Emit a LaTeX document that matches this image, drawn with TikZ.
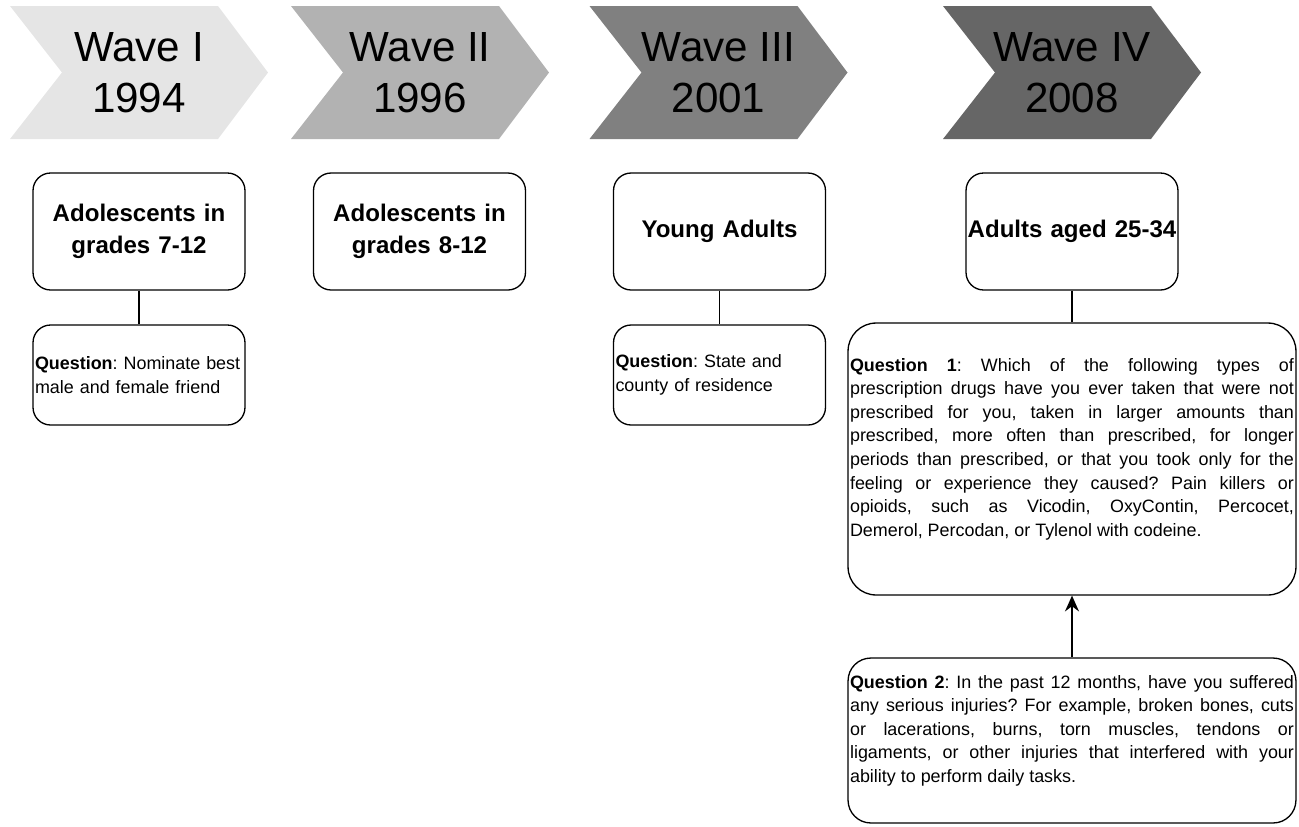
\documentclass[tikz,border=0pt]{standalone}
\usepackage{fontspec}
\setmainfont{Liberation Sans}
\usetikzlibrary{arrows.meta,calc}
\frenchspacing

\begin{document}
\begin{tikzpicture}[x=0.02cm,y=-0.02cm,
  wavetext/.style={align=center,font=\fontsize{24}{29}\selectfont},
  group/.style={draw,line width=0.75pt,rounded corners=10pt,minimum width=4.24cm,minimum height=2.34cm,
    text width=4.2cm,inner xsep=0.02cm,align=center,font=\bfseries\fontsize{13.7}{18.2}\selectfont},
  question/.style={draw,line width=0.75pt,rounded corners=10pt,minimum width=4.24cm,minimum height=2cm,
    text width=4.16cm,inner xsep=0.04cm,align=left,font=\fontsize{10.2}{13.4}\selectfont},
  longquestion/.style={question,rounded corners=16pt,minimum width=8.96cm,text width=8.88cm,align=justify}]
  \useasboundingbox (0,0) rectangle (1299,826);

  % the four waves
  \foreach \i/\cx/\shade/\wave/\yr in {1/139/10/I/1994,2/420/30/II/1996,3/718.5/50/III/2001,4/1072/60/IV/2008}{
    \fill[black!\shade] (\cx-129,6) -- (\cx+79,6) -- (\cx+129,72.5) -- (\cx+79,139)
      -- (\cx-129,139) -- (\cx-77,72.5) -- cycle;
    \node[wavetext] (wave\i) at (\cx,72.5) {Wave \wave\\\yr};
  }

  \node[group] (grp1) at (139,231.5) {Adolescents in\\grades 7-12};
  \node[group] (grp2) at (419.5,231.5) {Adolescents in\\grades 8-12};
  \node[group] (grp3) at (719.5,231.5) {Young Adults};
  \node[group] (grp4) at (1072,231.5) {Adults aged 25-34};

  \node[question] (ask1) at (139,375) {\textbf{Question}: Nominate best\\male and female friend};
  \node[question] (ask3) at (719.5,375) {\textbf{Question}: State and\\county of residence};
  \node[longquestion,minimum height=5.44cm] (drugs) at (1072,459) {\textbf{Question 1}: Which of the following types of\linebreak
    prescription drugs have you ever taken that were not\linebreak
    prescribed for you, taken in larger amounts than\linebreak
    prescribed, more often than prescribed, for longer\linebreak
    periods than prescribed, or that you took only for the\linebreak
    feeling or experience they caused? Pain killers or\linebreak
    opioids, such as Vicodin, OxyContin, Percocet,\linebreak
    Demerol, Percodan, or Tylenol with codeine.\par\mbox{}};
  \node[longquestion,rounded corners=13pt,minimum height=3.3cm] (injury) at (1072,740.5) {\textbf{Question 2}: In the past 12 months, have you suffered\linebreak
    any serious injuries? For example, broken bones, cuts\linebreak
    or lacerations, burns, torn muscles, tendons or\linebreak
    ligaments, or other injuries that interfered with your\linebreak
    ability to perform daily tasks.\par\mbox{}};

  \draw[line width=0.75pt] (grp1) -- (ask1);
  \draw[line width=0.75pt] (grp3) -- (ask3);
  \draw[line width=0.75pt] (grp4) -- (drugs);
  \draw[line width=0.75pt,-{Stealth[length=9pt,width=8pt,inset=3pt]}] (injury) -- (drugs);
\end{tikzpicture}
\end{document}
